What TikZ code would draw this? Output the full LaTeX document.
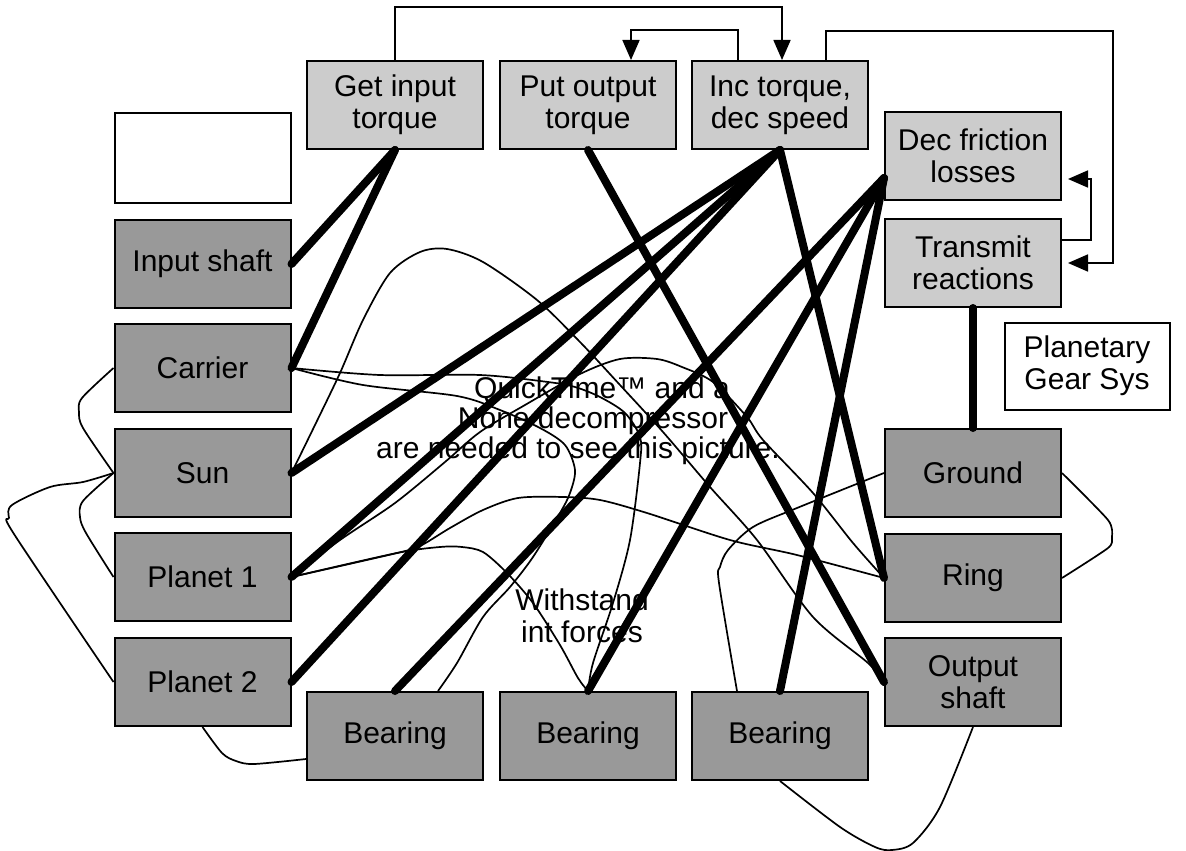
\documentclass[tikz,border=0pt]{standalone}
\usepackage{fontspec}
\setmainfont{Liberation Sans}
\usetikzlibrary{arrows.meta}
\definecolor{lightbox}{HTML}{CCCCCC}
\definecolor{darkbox}{HTML}{999999}
\newcommand\lbl{\fontsize{30}{32}\selectfont}
\begin{document}
\begin{tikzpicture}[x=1pt,y=-1pt,
  box/.style={draw=black, line width=2pt, minimum width=176pt, minimum height=88pt, inner sep=0pt, align=center, font=\lbl},
  lightb/.style={box, fill=lightbox},
  darkb/.style={box, fill=darkbox},
  whiteb/.style={box, fill=white},
  fat/.style={line width=8pt, line cap=round},
  wire/.style={line width=1.7pt, line join=round},
  arr/.style={line width=1.7pt, -{Triangle[length=20pt,width=17pt]}},
  txt/.style={font=\lbl, align=center, inner sep=0pt}]
\useasboundingbox (0,0) rectangle (1186,851);

% texts behind lines
\node[txt] (qt1) at (602,390) {QuickTime™ and a};
\node[txt] (qt2) at (593,421) {None decompressor};
\node[txt] (qt3) at (578,451) {are needed to see this picture.};
\node[txt] (wf) at (582,616) {Withstand\\int forces};

% boxes
\node[whiteb, minimum height=90pt] (blank) at (202.5,158) {};
\node[darkb] (input) at (202.5,264) {Input shaft};
\node[darkb] (carrier) at (202.5,368) {Carrier};
\node[darkb] (sun) at (202.5,473) {Sun};
\node[darkb] (planet1) at (202.5,577) {Planet 1};
\node[darkb] (planet2) at (202.5,682) {Planet 2};
\node[lightb] (getin) at (395,105) {Get input\\torque};
\node[lightb] (putout) at (588,105) {Put output\\torque};
\node[lightb] (inc) at (780,105) {Inc torque,\\dec speed};
\node[lightb] (dec) at (973,156) {Dec friction\\losses};
\node[lightb] (trans) at (973,263) {Transmit\\reactions};
\node[whiteb, minimum width=165pt, minimum height=87pt] (pgs) at (1087,366) {Planetary\\Gear Sys};
\node[darkb] (ground) at (973,473) {Ground};
\node[darkb] (ring) at (973,578) {Ring};
\node[darkb] (output) at (973,682) {Output\\shaft};
\node[darkb] (bear1) at (395,736) {Bearing};
\node[darkb] (bear2) at (588,736) {Bearing};
\node[darkb] (bear3) at (780,736) {Bearing};

% arrows
\coordinate (rt) at (1113,31);
\coordinate (rt2) at (1091,179);
\draw[arr] (getin.north) -- ++(0,-53) -| ([xshift=2pt]inc.north);
\draw[arr] ([xshift=-42pt]inc.north) -- ++(0,-30) -| ([xshift=43pt]putout.north);
\draw[arr] ([xshift=46pt]inc.north) |- (rt) |- ([xshift=6pt]trans.east);
\draw[arr] ([yshift=23pt]trans.east) -| (rt2) -- ([xshift=6pt,yshift=-23pt]dec.east);

% thin curves
\draw[wire] plot[smooth,tension=0.5] coordinates {(carrier.west) (82,398) (79,412) (83,428) (sun.west)};
\draw[wire] plot[smooth,tension=0.5] coordinates {(sun.west) (83,482) (50,487) (12,505) (9,518) (14,534) (planet2.west)};
\draw[wire] plot[smooth,tension=0.5] coordinates {(sun.west) (83,501) (80,517) (86,533) (planet1.west)};
\draw[wire] plot[smooth,tension=0.5] coordinates {(planet2.south) (222,753) (236,761) (254,764) ([yshift=-23pt]bear1.west)};
\draw[wire] plot[smooth,tension=0.5] coordinates {(bear3.south) (840,827) (875,847) (892,850) (913,843) (940,807) (output.south)};
\draw[wire] plot[smooth,tension=0.5] coordinates {(ground.west) (797,508) (753,527) (728,550) (720,567) (719,583) ([xshift=-43pt]bear3.north)};
\draw[wire] plot[smooth,tension=0.4] coordinates {(ground.east) (1108,520) (1112,537) (1108,548) (ring.east)};
\draw[wire] plot[smooth,tension=0.5] coordinates {(sun.east) (315,425) (340,373) (363,320) (390,273) (420,252) (447,249) (483,262) (537,300) (580,342) (620,385) (663,432) (710,487) (757,540) (813,617) (868,663) (output.west)};
\draw[wire] plot[smooth,tension=0.5] coordinates {(carrier.east) (380,375) (480,375) (548,382) (575,387) (600,397) (625,413) (640,437) (640,463) (630,540) (613,603) (593,663) (bear2.north)};
\draw[wire] plot[smooth,tension=0.5] coordinates {(carrier.east) (363,385) (457,396) (500,410) (540,428) (565,445) (575,470) (570,493) (560,513) (533,557) (510,587) (483,617) (457,663) ([xshift=43pt]bear1.north)};
\draw[wire] plot[smooth,tension=0.5] coordinates {(planet1.east) (340,540) (395,503) (445,462) (480,432) (525,405) (580,374) (620,359) (657,359) (682,367) (713,382) (747,417) (763,440) (813,493) (853,543) (ring.west)};
\draw[wire] plot[smooth,tension=0.5] coordinates {(planet1.east) (397,553) (420,546) (450,528) (483,510) (518,498) (563,497) (600,500) (647,513) (730,540) (797,555) (ring.west)};
\draw[wire] plot[smooth,tension=0.5] coordinates {(planet1.east) (397,553) (440,547) (462,547) (483,552) (507,573) (533,603) (560,645) (578,678) (bear2.north)};

% thick links
\draw[fat] (getin.south) -- (input.east);
\draw[fat] (getin.south) -- (carrier.east);
\draw[fat] (putout.south) -- (output.west);
\draw[fat] (inc.south) -- (sun.east);
\draw[fat] (inc.south) -- (planet1.east);
\draw[fat] (inc.south) -- (planet2.east);
\draw[fat] (inc.south) -- (ring.west);
\draw[fat] ([yshift=-22pt]dec.west) -- (bear1.north);
\draw[fat] ([yshift=-22pt]dec.west) -- (bear2.north);
\draw[fat] ([yshift=-22pt]dec.west) -- (bear3.north);
\draw[fat] (trans.south) -- (ground.north);
\end{tikzpicture}
\end{document}
